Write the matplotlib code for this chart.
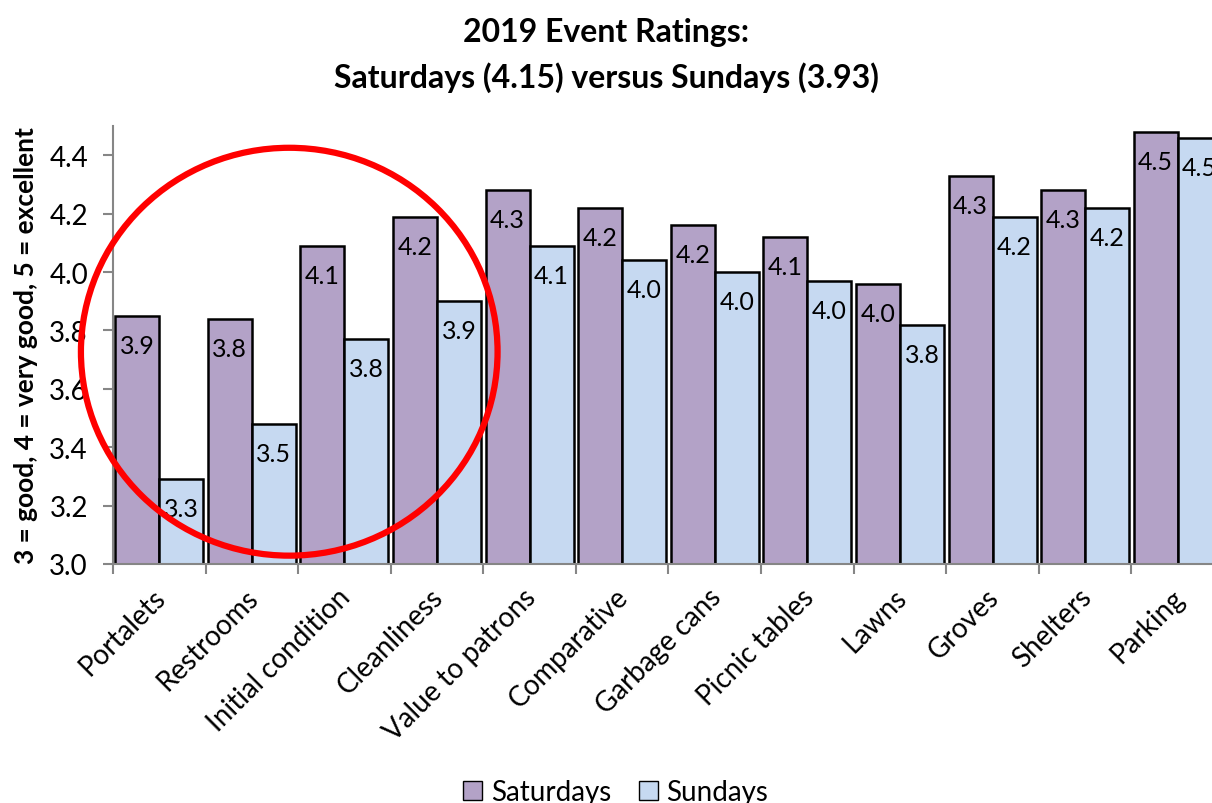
import matplotlib.pyplot as plt
import matplotlib.transforms as mtransforms
import numpy as np
from matplotlib.patches import Ellipse, Patch

plt.rcParams["font.family"] = ["Lato", "DejaVu Sans"]

# 数据
categories = ["Portalets", "Restrooms", "Initial condition", "Cleanliness",
              "Value to patrons", "Comparative", "Garbage cans", "Picnic tables",
              "Lawns", "Groves", "Shelters", "Parking"]
saturdays = [3.85, 3.84, 4.09, 4.19, 4.28, 4.22, 4.16, 4.12, 3.96, 4.33, 4.28, 4.48]
sundays = [3.29, 3.48, 3.77, 3.90, 4.09, 4.04, 4.00, 3.97, 3.82, 4.19, 4.22, 4.46]
yticks = [3.0, 3.2, 3.4, 3.6, 3.8, 4.0, 4.2, 4.4]

sat_color = "#B3A2C7"
sun_color = "#C6D9F1"
axis_gray = "#868686"

fig = plt.figure(figsize=(12.12, 8.04), dpi=100)
# 图表右侧被截断，所以坐标轴超出画布
ax = fig.add_axes([0.0932, 0.2973, 0.9167, 0.5447])

x = np.arange(len(categories))
w = 0.475
b1 = ax.bar(x - w / 2, saturdays, w, color=sat_color, edgecolor="black", linewidth=1.8, label="Saturdays")
b2 = ax.bar(x + w / 2, sundays, w, color=sun_color, edgecolor="black", linewidth=1.8, label="Sundays")

for bars, vals in [(b1, saturdays), (b2, sundays)]:
    for bar, v in zip(bars, vals):
        ax.annotate(f"{v:.1f}", (bar.get_x() + bar.get_width() / 2, v),
                    xytext=(0, -13), textcoords="offset points",
                    ha="center", va="top", fontsize=18)

ax.set_xlim(-0.5, len(categories) - 0.5)
ax.set_ylim(3.0, 4.5)
ax.set_yticks(yticks)
ax.set_yticklabels([f"{t:.1f}" for t in yticks], fontsize=20)
ax.set_xticks(x)
ax.set_xticklabels(categories, rotation=45, ha="right", rotation_mode="anchor", fontsize=20)
ax.set_xticks(np.arange(len(categories) + 1) - 0.5, minor=True)
ax.tick_params(axis="x", which="major", length=0, pad=14)
ax.tick_params(axis="x", which="minor", length=7, color=axis_gray, width=1.5)
ax.tick_params(axis="y", length=7, color=axis_gray, width=1.5, pad=11)

# 类别标签稍微左移
shift = mtransforms.ScaledTranslation(-7 / 100, 0, fig.dpi_scale_trans)
for lbl in ax.get_xticklabels():
    lbl.set_transform(lbl.get_transform() + shift)

for s in ["top", "right"]:
    ax.spines[s].set_visible(False)
for s in ["left", "bottom"]:
    ax.spines[s].set_color(axis_gray)
    ax.spines[s].set_linewidth(1.5)

ax.set_ylabel("3 = good, 4 = very good, 5 = excellent", fontsize=19, fontweight="bold", labelpad=8)

fig.suptitle("2019 Event Ratings:\nSaturdays (4.15) versus Sundays (3.93)",
             x=0.5, y=0.978, fontsize=23, fontweight="bold", linespacing=1.6)

# 红色圆圈标注
circ = Ellipse((1.404, 3.727), 4.50, 1.397, transform=ax.transData, fill=False,
               edgecolor="red", linewidth=4.5, clip_on=False, zorder=5)
ax.add_patch(circ)

handles = [Patch(facecolor=sat_color, edgecolor="black", label="Saturdays"),
           Patch(facecolor=sun_color, edgecolor="black", label="Sundays")]
fig.legend(handles=handles, loc="lower center", bbox_to_anchor=(0.508, -0.034), ncol=2,
           frameon=False, fontsize=20, handlelength=0.7, handleheight=0.7,
           handletextpad=0.3, columnspacing=1.0)

fig.savefig("out.png", dpi=100)
